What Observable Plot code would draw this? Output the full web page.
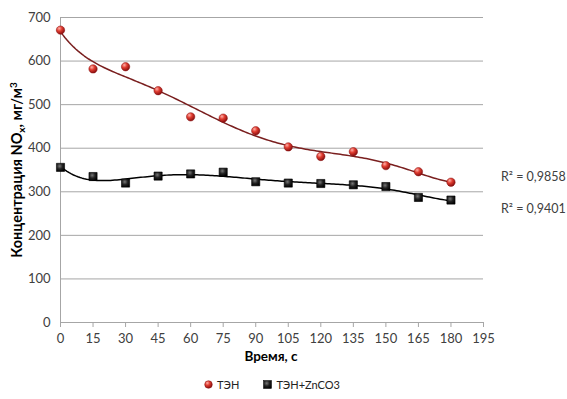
<!DOCTYPE html>
<html><head><meta charset="utf-8">
<script src="https://cdn.jsdelivr.net/npm/d3@7"></script>
<script src="https://cdn.jsdelivr.net/npm/@observablehq/plot@0.6"></script>
<style>
body{margin:0;background:#fff;font-family:Lato,"Open Sans",sans-serif;}
#legend{display:flex;justify-content:center;align-items:center;gap:24px;font-size:11px;color:#222;height:29px;width:544px;}
#legend span{display:inline-flex;align-items:center;gap:4px;}
</style></head>
<body>
<div id="chart"></div>
<div id="legend"></div>
<script>
const times = [0,15,30,45,60,75,90,105,120,135,150,165,180];
const ten   = [671,582,587,532,472,469,440,403,381,392,360,346,322];
const tenZn = [356,335,320,336,341,345,323,320,319,316,312,287,281];
const seriesNames = ["ТЭН","ТЭН+ZnCO3"];
const xTicks = [0,15,30,45,60,75,90,105,120,135,150,165,180,195];
const yTicks = [0,100,200,300,400,500,600,700];
const r2Labels = ["R² = 0,9858","R² = 0,9401"];
const fitDegree = [6,6];

function polyfit(xs, ys, deg){
  const s = 180;
  const n = deg+1;
  const A = Array.from({length:n},()=>new Array(n+1).fill(0));
  xs.forEach((x,i)=>{
    const t = x/s;
    for(let r=0;r<n;r++){
      for(let c=0;c<n;c++) A[r][c]+=Math.pow(t,r+c);
      A[r][n]+=ys[i]*Math.pow(t,r);
    }
  });
  for(let i=0;i<n;i++){
    let p=i; for(let k=i+1;k<n;k++) if(Math.abs(A[k][i])>Math.abs(A[p][i])) p=k;
    [A[i],A[p]]=[A[p],A[i]];
    for(let k=0;k<n;k++){ if(k===i) continue; const f=A[k][i]/A[i][i]; for(let c=i;c<=n;c++) A[k][c]-=f*A[i][c]; }
  }
  const coef = A.map((row,i)=>row[n]/row[i]);
  return x => { const t=x/s; return coef.reduce((a,c,i)=>a+c*Math.pow(t,i),0); };
}

const pts = [];
const curves = [];
const labels = [];
[ten, tenZn].forEach((vals, si) => {
  vals.forEach((v,i)=>pts.push({t:times[i], v, s:seriesNames[si]}));
  const f = polyfit(times, vals, fitDegree[si]);
  for(let x=times[0]; x<=times[times.length-1]+0.01; x+=1) curves.push({t:x, v:f(x), s:seriesNames[si]});
  labels.push({t:times[times.length-1], v:f(times[times.length-1]), s:seriesNames[si], label:r2Labels[si]});
});

const W = 567, H = 370;
const plot = Plot.plot({
  width: W, height: H,
  marginLeft: 60, marginRight: 84, marginTop: 17, marginBottom: 48,
  style: {fontFamily: "Lato, 'Open Sans', sans-serif", fontSize: "13px", color: "#404040", background: "#fff"},
  x: {domain:[0,195], ticks: xTicks, label: null},
  y: {domain:[0,700], ticks: yTicks, label: null},
  marks: [
    Plot.gridY(yTicks, {stroke:"#a6a6a6", strokeOpacity:1, strokeWidth:1}),
    Plot.ruleX([0], {stroke:"#a6a6a6"}),
    Plot.ruleY([0], {stroke:"#a6a6a6"}),
    Plot.axisY(yTicks, {tickSize:0, tickPadding:10, fontSize:13, fill:"#404040"}),
    Plot.axisX(xTicks, {tickSize:5, stroke:"#a6a6a6", tickPadding:6, fontSize:13, fill:"#404040"}),
    Plot.line(curves.filter(d=>d.s===seriesNames[0]), {x:"t", y:"v", stroke:"#7a1f1f", strokeWidth:1.5}),
    Plot.line(curves.filter(d=>d.s===seriesNames[1]), {x:"t", y:"v", stroke:"#000", strokeWidth:1.5}),
    Plot.dot(pts.filter(d=>d.s===seriesNames[0]), {x:"t", y:"v", r:4.2, fill:"url(#gRed)", stroke:"#8a1010", strokeWidth:0.5}),
    Plot.dot(pts.filter(d=>d.s===seriesNames[1]), {x:"t", y:"v", r:4.6, symbol:"square", fill:"url(#gBlk)", stroke:"#000", strokeWidth:0.6}),
    Plot.text(labels.filter(d=>d.s===seriesNames[0]), {x:"t", y:"v", text:"label", dx:50, dy:-5, textAnchor:"start", fontSize:12.5, fill:"#404040"}),
    Plot.text(labels.filter(d=>d.s===seriesNames[1]), {x:"t", y:"v", text:"label", dx:50, dy:8, textAnchor:"start", fontSize:12.5, fill:"#404040"})
  ]
});
document.getElementById("chart").appendChild(plot);

const svg = d3.select(plot);
const defs = svg.insert("defs", ":first-child");
const gr = defs.append("radialGradient").attr("id","gRed").attr("cx","35%").attr("cy","30%").attr("r","70%");
gr.append("stop").attr("offset","0%").attr("stop-color","#ffb0a8");
gr.append("stop").attr("offset","45%").attr("stop-color","#e03c30");
gr.append("stop").attr("offset","100%").attr("stop-color","#8a1010");
const gb = defs.append("radialGradient").attr("id","gBlk").attr("cx","40%").attr("cy","35%").attr("r","70%");
gb.append("stop").attr("offset","0%").attr("stop-color","#777");
gb.append("stop").attr("offset","50%").attr("stop-color","#222");
gb.append("stop").attr("offset","100%").attr("stop-color","#000");

// Axis titles
const yl = svg.append("text").attr("transform","translate(22,170) rotate(-90)").attr("text-anchor","middle")
  .attr("font-weight","bold").attr("font-size","14.5px").attr("fill","#000");
yl.append("tspan").text("Концентрация NO");
yl.append("tspan").attr("font-size","10px").attr("dy","3").text("x");
yl.append("tspan").attr("dy","-3").text(", мг/м");
yl.append("tspan").attr("font-size","10px").attr("dy","-5").text("3");
svg.append("text").attr("x",271).attr("y",361).attr("text-anchor","middle")
  .attr("font-weight","bold").attr("font-size","13.5px").attr("fill","#000").text("Время, с");

// Legend
const lg = document.getElementById("legend");
lg.innerHTML = `<span><svg width="9" height="9"><circle cx="4.5" cy="4.5" r="3.8" fill="url(#gRed)" stroke="#8a1010" stroke-width="0.5"/></svg>${seriesNames[0]}</span>
<span><svg width="9" height="9"><rect x="0.5" y="0.5" width="8" height="8" fill="url(#gBlk)" stroke="#000" stroke-width="0.5"/></svg>${seriesNames[1]}</span>`;
</script>
</body></html>
